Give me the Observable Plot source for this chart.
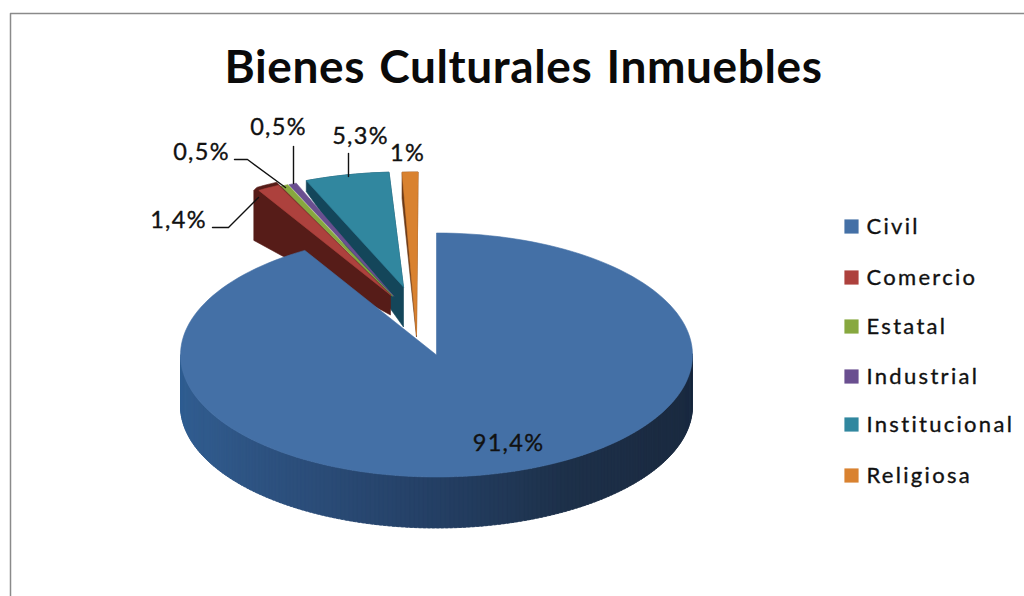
<!DOCTYPE html>
<html>
<head>
<meta charset="utf-8">
<script src="https://cdn.jsdelivr.net/npm/d3@7"></script>
<script src="https://cdn.jsdelivr.net/npm/@observablehq/plot@0.6"></script>
<style>
html,body{margin:0;padding:0;background:#fff;overflow:hidden}
svg{display:block;font-family:Lato,sans-serif}
.tt text{letter-spacing:.6px;word-spacing:2.5px}
.lg text{letter-spacing:2.3px}
.lb text{letter-spacing:1.3px}
</style>
</head>
<body>
<div id="chart"></div>
<script>
// ---- data ----
const title = "Bienes Culturales Inmuebles";
const categories = ["Civil","Comercio","Estatal","Industrial","Institucional","Religiosa"];
const values = [91.4,1.4,0.5,0.5,5.3,1];
const valueLabels = ["91,4%","1,4%","0,5%","0,5%","5,3%","1%"];
const faceColors = ["#4470a6","#ad413d","#87a83f","#6a4f90","#31879f","#d98230"];
const wallColors = ["#1d3048","#561c18","#4d6322","#3a2a55","#14465a","#6b3a18"];
const wallStops = ["#2f5f93","#30598a","#2b4d79","#243f64","#1d3049","#1b2b42","#1a2a40"];

// ---- drawing layout of the exploded 3D pie ----
const W = 1024, H = 596;
const cx = 436, cy = 354.5, rx = 256, ry = 122, depth = 51;
const explodeX = [0,-46,-44,-43,-33,-20];
const explodeY = [0,-60,-59,-59,-68,-20];
const radiusY  = [122,122,122,122,115,163];
const wallApex = [0,20,0,0,40,2];
const wallRim  = [0,50,0,0,11,26];
const wallLeft = [0,-5,0,0,0,0];
const labelX = [508,178,201,278,360,407];
const labelY = [443,220,152,127,136,153];
const legendY = [226,277,326,376,424,475];
const leaders = [
  [[212,227],[228,227],[258,197]],
  [[234,159],[247,159],[285,187]],
  [[293,146],[293,183]],
  [[348,153],[348,176]]
];

const rad = d => d * Math.PI / 180;
let acc = 0;
const slices = values.map((v,i) => {
  const a0 = acc; acc += v * 3.6;
  const ox = cx + explodeX[i], oy = cy + explodeY[i], yr = radiusY[i];
  const pt = a => [ox + rx * Math.sin(rad(a)), oy - yr * Math.cos(rad(a))];
  return {i, a0, a1: acc, ox, oy, pt};
});

const polys = [];
let zid = 0;
function poly(points, fill){
  const z = zid++;
  points.concat([points[0]]).forEach(p => polys.push({x:p[0], y:p[1], z, fill}));
}
function arc(s, a0, a1){
  const n = Math.max(2, Math.ceil((a1 - a0) / 2)), out = [];
  for (let k = 0; k <= n; k++) out.push(s.pt(a0 + (a1 - a0) * k / n));
  return out;
}
// drawn back to front: exploded slices, then the big slice on top of them
[5,4,3,2,1].forEach(i => {
  const s = slices[i], p0 = s.pt(s.a0);
  if (wallRim[i] > 0) {
    const lift = wallLeft[i] ? 3 : 0;
    const rim = arc(s, s.a0, s.a1).map(p => [p[0] + wallLeft[i] * 0.4, p[1] - lift]);
    poly([[s.ox, s.oy], [s.ox, s.oy + wallApex[i]], [p0[0] + wallLeft[i], p0[1] + wallRim[i]],
          [p0[0] + wallLeft[i], p0[1]]].concat(rim), wallColors[i]);
  }
  poly([[s.ox, s.oy]].concat(arc(s, s.a0, s.a1)), faceColors[i]);
});
// side wall of the big slice, shaded from left to right
const shade = d3.piecewise(d3.interpolateRgb, wallStops);
const main = slices[0];
for (let a = 270; a > 90; a -= 1) {
  const p = main.pt(a), q = main.pt(a - 1.6);
  poly([p, q, [q[0], q[1] + depth], [p[0], p[1] + depth]], shade((270 - a) / 180));
}
poly([[main.ox, main.oy]].concat(arc(main, main.a0, main.a1)), faceColors[0]);

const frame = [{x:10,y:H},{x:10,y:13},{x:W,y:13}];
const leaderRows = leaders.flatMap((l,k) => l.map(p => ({x:p[0], y:p[1], k})));
const labels = valueLabels.map((t,i) => ({t, x:labelX[i], y:labelY[i]}));
const legend = categories.map((t,i) => ({t, y:legendY[i], c:faceColors[i]}));

const chart = Plot.plot({
  width: W, height: H,
  marginTop: 0, marginRight: 0, marginBottom: 0, marginLeft: 0,
  x: {domain:[0,W], range:[0,W], axis:null},
  y: {domain:[0,H], range:[0,H], axis:null},
  color: {type:"identity"},
  marks: [
    Plot.line(frame, {x:"x", y:"y", stroke:"#8a8a8a", strokeWidth:1.5}),
    Plot.line(polys, {x:"x", y:"y", z:"z", fill:"fill", stroke:"fill", strokeWidth:0.6, curve:"linear"}),
    Plot.line(leaderRows, {x:"x", y:"y", z:"k", stroke:"#111", strokeWidth:1.4}),
    Plot.text([title], {x:()=>523, y:()=>68, text:d=>d, fontSize:46, fontWeight:700, fill:"#0a0a0a", className:"tt"}),
    Plot.text(labels, {x:"x", y:"y", text:"t", fontSize:23.5, fontWeight:400, fill:"#111", stroke:"#111", strokeWidth:0.35, className:"lb"}),
    Plot.dot(legend, {x:()=>851, y:"y", symbol:"square", r:8, fill:"c", stroke:"none"}),
    Plot.text(legend, {x:()=>866, y:"y", text:"t", textAnchor:"start", fontSize:22, fontWeight:400, fill:"#111", stroke:"#111", strokeWidth:0.35, className:"lg"})
  ]
});
document.getElementById("chart").appendChild(chart);
</script>
</body>
</html>
